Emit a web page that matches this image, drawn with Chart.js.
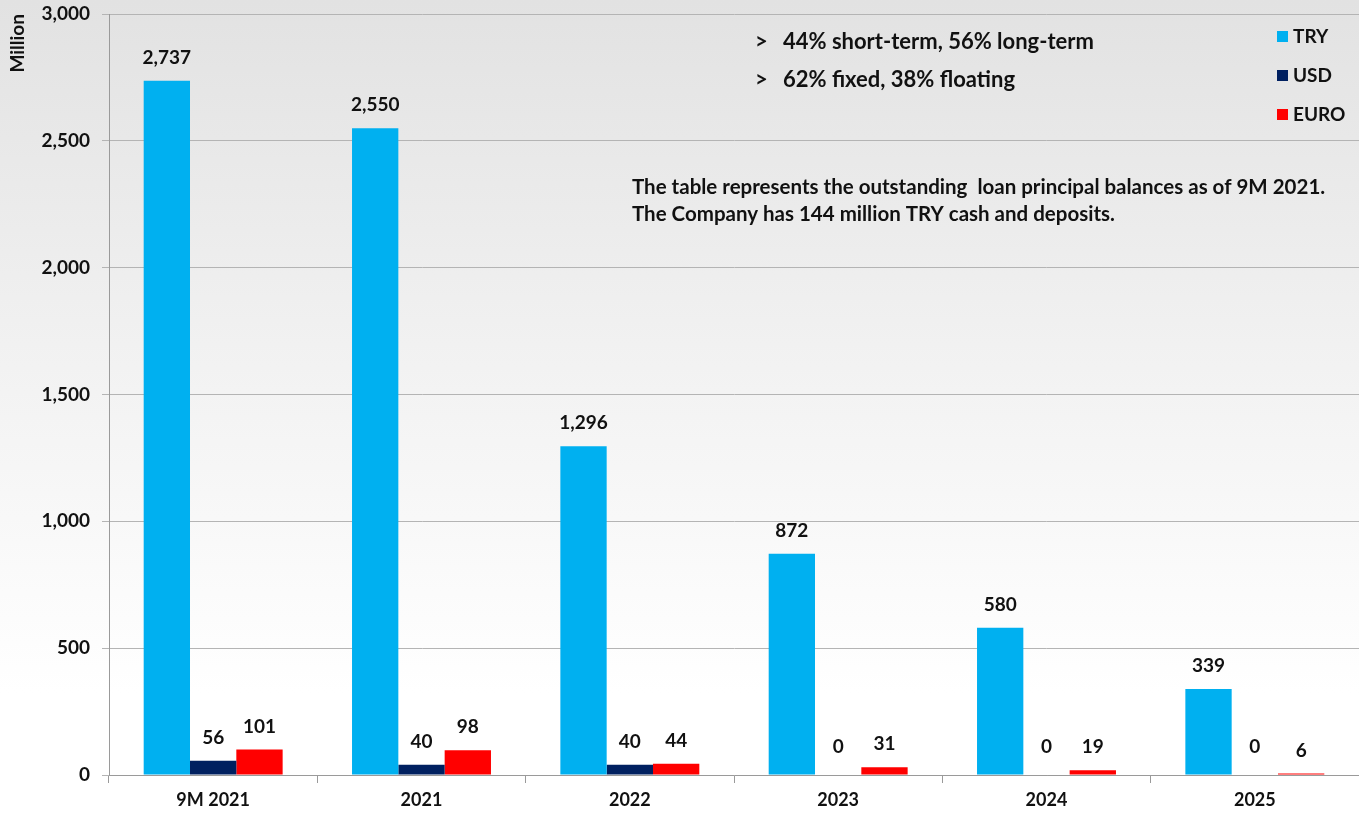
<!DOCTYPE html>
<html>
<head>
<meta charset="utf-8">
<script src="https://cdn.jsdelivr.net/npm/chart.js@4/dist/chart.umd.min.js"></script>
<style>
  html, body { margin: 0; padding: 0; }
  body { width: 1359px; height: 815px; background: linear-gradient(#e2e2e2 0%, #f2f2f2 45%, #ffffff 85%); overflow: hidden; }
  #wrap { position: relative; width: 1359px; height: 815px; }
</style>
</head>
<body>
<div id="wrap"><canvas id="loanChart" width="1359" height="815"></canvas></div>
<script>
// dados
const years = ['9M 2021', '2021', '2022', '2023', '2024', '2025'];
const tryValues = [2737, 2550, 1296, 872, 580, 339];
const usdValues = [56, 40, 40, 0, 0, 0];
const euroValues = [101, 98, 44, 31, 19, 6];
const seriesNames = ['TRY', 'USD', 'EURO'];
const seriesColors = ['#00b0f0', '#002060', '#ff0000'];
const noteBullets = ['44% short-term, 56% long-term', '62% fixed, 38% floating'];
const noteLines = ['The table represents the outstanding  loan principal balances as of 9M 2021.',
                   'The Company has 144 million TRY cash and deposits.'];

const FONT = 'Lato, "Open Sans", sans-serif';

// rótulos de valor em cima das barras
const valueLabels = {
  id: 'valueLabels',
  afterDatasetsDraw(chart) {
    const ctx = chart.ctx;
    ctx.save();
    ctx.font = 'bold 19px ' + FONT;
    ctx.fillStyle = '#111';
    ctx.textAlign = 'center';
    ctx.textBaseline = 'middle';
    chart.data.datasets.forEach((ds, i) => {
      chart.getDatasetMeta(i).data.forEach((bar, j) => {
        const v = ds.data[j];
        const y = v === 0 ? bar.y - 28 : bar.y - 23;
        ctx.fillText(v.toLocaleString('en-US'), bar.x, y);
      });
    });
    ctx.restore();
  }
};

// legenda e textos dentro da área do gráfico
const notes = {
  id: 'notes',
  afterDraw(chart) {
    const ctx = chart.ctx;
    ctx.save();
    ctx.fillStyle = '#111';
    ctx.textBaseline = 'middle';

    // legenda vertical
    ctx.font = 'bold 19px ' + FONT;
    seriesNames.forEach((name, i) => {
      const y = 37 + i * 39;
      ctx.fillStyle = seriesColors[i];
      ctx.fillRect(1277, y - 6, 11, 11);
      ctx.fillStyle = '#111';
      ctx.textAlign = 'left';
      ctx.fillText(name, 1293, y);
    });

    // tópicos
    ctx.font = 'bold 22px ' + FONT;
    noteBullets.forEach((txt, i) => {
      const y = 42 + i * 38;
      ctx.fillText('>', 755, y);
      ctx.fillText(txt, 783, y);
    });

    // observação
    ctx.font = 'bold 20.5px ' + FONT;
    noteLines.forEach((txt, i) => {
      ctx.fillText(txt, 632, 187 + i * 27);
    });
    ctx.restore();
  }
};

const ctx = document.getElementById('loanChart').getContext('2d');
new Chart(ctx, {
  type: 'bar',
  data: {
    labels: years,
    datasets: [
      { label: seriesNames[0], data: tryValues, backgroundColor: seriesColors[0] },
      { label: seriesNames[1], data: usdValues, backgroundColor: seriesColors[1] },
      { label: seriesNames[2], data: euroValues, backgroundColor: seriesColors[2] }
    ]
  },
  options: {
    responsive: false,
    animation: false,
    layout: { padding: 0 },
    datasets: { bar: { categoryPercentage: 0.667, barPercentage: 1.0 } },
    plugins: {
      legend: { display: false },
      tooltip: { enabled: false }
    },
    scales: {
      x: {
        grid: { offset: true, drawOnChartArea: false, tickLength: 8, color: '#9a9a9a' },
        border: { color: '#9a9a9a' },
        ticks: { color: '#111', font: { family: FONT, size: 18, weight: 'bold' }, padding: 6 },
        afterFit(scale) { scale.height = 40; }
      },
      y: {
        min: 0,
        max: 3000,
        ticks: {
          stepSize: 500,
          color: '#111',
          padding: 12,
          font: { family: FONT, size: 19, weight: 'bold' },
          callback: v => v.toLocaleString('en-US')
        },
        grid: { color: '#b4b4b4', tickLength: 7 },
        border: { color: '#9a9a9a' },
        title: {
          display: true,
          text: 'Million',
          align: 'end',
          color: '#111',
          font: { family: FONT, size: 19, weight: 'bold' },
          padding: { top: 6, bottom: 0 }
        },
        afterFit(scale) {
          scale.width = 109;
          scale.paddingTop = 14;
          scale.paddingBottom = 0;
        }
      }
    }
  },
  plugins: [valueLabels, notes]
});
</script>
</body>
</html>
